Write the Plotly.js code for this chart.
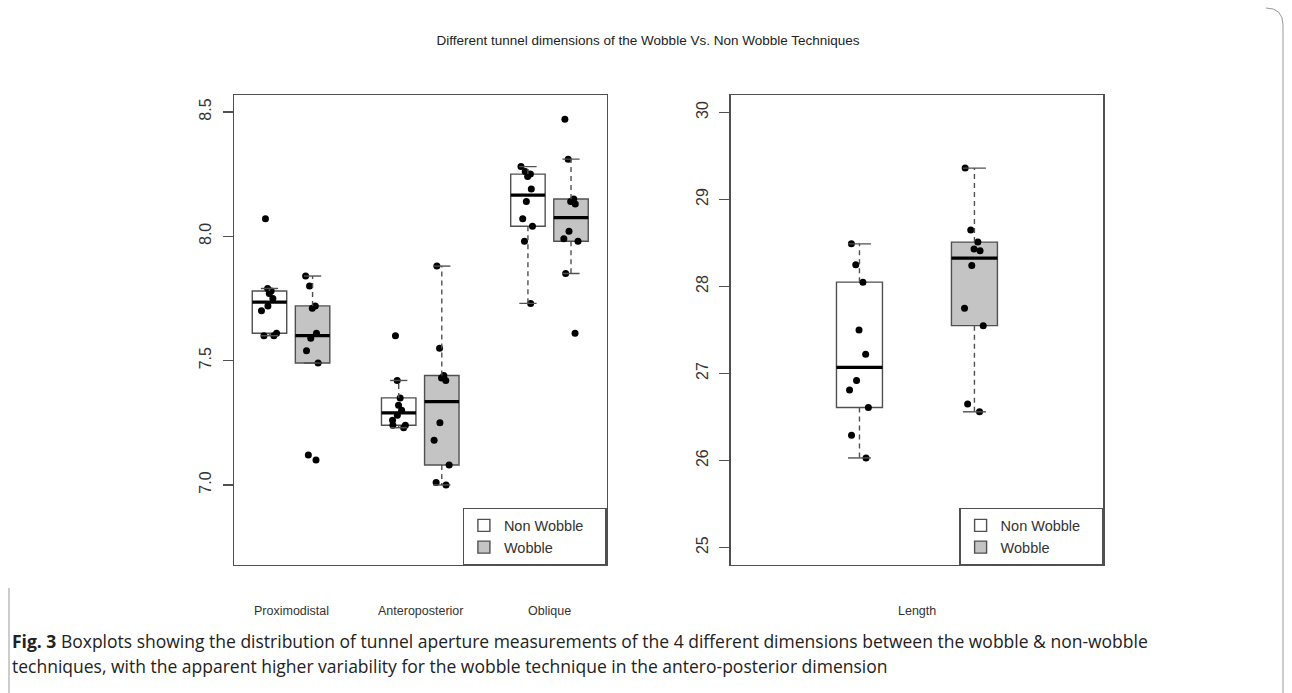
<!DOCTYPE html>
<html>
<head>
<meta charset="utf-8">
<script src="https://cdn.plot.ly/plotly-3.0.1.min.js"></script>
<style>
html,body{margin:0;padding:0;background:#fff;}
#chart{width:1292px;height:693px;}
</style>
</head>
<body>
<div id="chart"></div>
<script>
// ---------------- data ----------------
const seriesNames = ['Non Wobble', 'Wobble'];
const leftCategories = ['Proximodistal', 'Anteroposterior', 'Oblique'];
const rightCategories = ['Length'];

const proximodistalNonWobble = [7.60, 7.60, 7.61, 7.70, 7.72, 7.75, 7.77, 7.78, 7.79, 8.07];
const proximodistalWobble    = [7.10, 7.12, 7.49, 7.54, 7.59, 7.61, 7.71, 7.72, 7.80, 7.84];
const anteroposteriorNonWobble = [7.23, 7.24, 7.24, 7.26, 7.28, 7.30, 7.32, 7.35, 7.42, 7.60];
const anteroposteriorWobble    = [7.00, 7.01, 7.08, 7.18, 7.25, 7.42, 7.43, 7.44, 7.55, 7.88];
const obliqueNonWobble = [7.73, 7.98, 8.04, 8.07, 8.14, 8.19, 8.24, 8.25, 8.26, 8.28];
const obliqueWobble    = [7.61, 7.85, 7.98, 7.99, 8.02, 8.13, 8.14, 8.15, 8.31, 8.47];
const lengthNonWobble = [26.03, 26.29, 26.61, 26.81, 26.92, 27.22, 27.50, 28.05, 28.25, 28.49];
const lengthWobble    = [26.56, 26.65, 27.55, 27.75, 28.24, 28.41, 28.43, 28.51, 28.65, 29.36];

const leftTickVals = [7.0, 7.5, 8.0, 8.5];
const leftTickText = ['7.0', '7.5', '8.0', '8.5'];
const rightTickVals = [25, 26, 27, 28, 29, 30];
const rightTickText = ['25', '26', '27', '28', '29', '30'];

const titleText = 'Different tunnel dimensions of the Wobble Vs. Non Wobble Techniques';
const captionLine1 = '<b>Fig. 3</b> Boxplots showing the distribution of tunnel aperture measurements of the 4 different dimensions between the wobble &amp; non-wobble';
const captionLine2 = 'techniques, with the apparent higher variability for the wobble technique in the antero-posterior dimension';

// ---------------- layout helpers ----------------
const W = 1292, H = 693;
const px = x => x / W;
const py = y => 1 - y / H;

const FONT = 'Liberation Sans, Arial, sans-serif';
const LINE = '#505050';
const LW = 1.4;
const FILL = ['#ffffff', '#c4c4c4'];
const LEGEND_PAD = '\u00a0\u00a0\u00a0\u00a0';

// group slots (x positions on each panel's own scale)
const leftGroups = [
  {data: proximodistalNonWobble, s: 0, pos: 1},
  {data: proximodistalWobble, s: 1, pos: 2},
  {data: anteroposteriorNonWobble, s: 0, pos: 4},
  {data: anteroposteriorWobble, s: 1, pos: 5},
  {data: obliqueNonWobble, s: 0, pos: 7},
  {data: obliqueWobble, s: 1, pos: 8}
];
const leftLabelPos = [1.5, 4.5, 7.5];
const rightGroups = [
  {data: lengthNonWobble, s: 0, pos: 1},
  {data: lengthWobble, s: 1, pos: 2}
];
const rightLabelPos = [1.5];

// Tukey five-number summary + 1.5 IQR whiskers (like R boxplot)
function boxStats(a) {
  const s = [...a].sort((p, q) => p - q);
  const n = s.length;
  const n4 = Math.floor((n + 3) / 2) / 2;
  const d = [1, n4, (n + 1) / 2, n + 1 - n4, n];
  const f = d.map(v => 0.5 * (s[Math.floor(v) - 1] + s[Math.ceil(v) - 1]));
  const iqr = f[3] - f[1];
  const lo = s.find(v => v >= f[1] - 1.5 * iqr - 1e-9);
  const hi = [...s].reverse().find(v => v <= f[3] + 1.5 * iqr + 1e-9);
  return {q1: f[1], med: f[2], q3: f[3], lo: lo, hi: hi};
}

const traces = [];
function addGroups(groups, xa, ya, bw, legendId) {
  const shown = {};
  groups.forEach(g => {
    const st = boxStats(g.data);
    const half = bw / 2;
    const cap = bw / 4;
    traces.push({
      type: 'box', xaxis: xa, yaxis: ya,
      x: [g.pos], q1: [st.q1], median: [st.med], q3: [st.q3],
      lowerfence: [st.q1], upperfence: [st.q3],
      width: bw, whiskerwidth: 0, boxpoints: false,
      fillcolor: FILL[g.s], line: {color: LINE, width: LW},
      name: seriesNames[g.s] + (g.s === 0 ? LEGEND_PAD : ''), legend: legendId,
      showlegend: !shown[g.s], hoverinfo: 'skip'
    });
    shown[g.s] = true;
    traces.push({
      type: 'scatter', mode: 'lines', xaxis: xa, yaxis: ya,
      x: [g.pos, g.pos, null, g.pos, g.pos],
      y: [st.q3, st.hi, null, st.q1, st.lo],
      line: {color: LINE, width: LW, dash: '5px,4px'},
      showlegend: false, hoverinfo: 'skip'
    });
    traces.push({
      type: 'scatter', mode: 'lines', xaxis: xa, yaxis: ya,
      x: [g.pos - cap, g.pos + cap, null, g.pos - cap, g.pos + cap],
      y: [st.hi, st.hi, null, st.lo, st.lo],
      line: {color: LINE, width: LW},
      showlegend: false, hoverinfo: 'skip'
    });
    traces.push({
      type: 'scatter', mode: 'lines', xaxis: xa, yaxis: ya,
      x: [g.pos - half, g.pos + half], y: [st.med, st.med],
      line: {color: '#000', width: 3.2},
      showlegend: false, hoverinfo: 'skip'
    });
  });
  groups.forEach(g => {
    traces.push({
      type: 'box', xaxis: xa, yaxis: ya,
      y: g.data, x0: g.pos, width: bw,
      boxpoints: 'all', jitter: 0.55, pointpos: 0,
      fillcolor: 'rgba(0,0,0,0)', line: {color: 'rgba(0,0,0,0)', width: 0},
      whiskerwidth: 0,
      marker: {color: '#000', size: 7, line: {width: 0}},
      showlegend: false, hoverinfo: 'skip'
    });
  });
}
addGroups(leftGroups, 'x', 'y', 0.8, 'legend');
addGroups(rightGroups, 'x2', 'y2', 0.4, 'legend2');

const L = {x0: 234, x1: 606.5};
const R = {x0: 730.7, x1: 1103.2};
const TOP = 95, BOT = 565;

function xAxis(dom, range, anchor) {
  return {
    domain: [px(dom.x0), px(dom.x1)], range: range, anchor: anchor,
    showticklabels: false, ticks: '', showgrid: false, zeroline: false,
    showline: true, mirror: true, linecolor: LINE, linewidth: LW, fixedrange: true
  };
}
function yAxis(range, vals, text, anchor) {
  return {
    domain: [py(BOT), py(TOP)], range: range, anchor: anchor,
    tickmode: 'array', tickvals: vals, ticktext: text,
    ticks: 'outside', ticklen: 10, tickwidth: LW, tickcolor: LINE,
    tickangle: -90, ticklabelstandoff: 5,
    tickfont: {family: FONT, size: 16, color: '#333'},
    showgrid: false, zeroline: false,
    showline: true, mirror: true, linecolor: LINE, linewidth: LW, fixedrange: true
  };
}
function legendBox(rightPx) {
  return {
    x: px(rightPx), xanchor: 'right', y: py(BOT), yanchor: 'bottom',
    bgcolor: '#ffffff', bordercolor: LINE, borderwidth: LW,
    font: {family: FONT, size: 14.5, color: '#333'},
    itemclick: false, itemdoubleclick: false, traceorder: 'normal'
  };
}

const annotations = [];
leftCategories.forEach((c, i) => annotations.push({
  text: c, xref: 'x', x: leftLabelPos[i], yref: 'paper', y: py(611),
  xanchor: 'center', yanchor: 'middle', showarrow: false,
  font: {family: FONT, size: 12.5, color: '#333'}
}));
rightCategories.forEach((c, i) => annotations.push({
  text: c, xref: 'x2', x: rightLabelPos[i], yref: 'paper', y: py(611),
  xanchor: 'center', yanchor: 'middle', showarrow: false,
  font: {family: FONT, size: 12.5, color: '#333'}
}));
annotations.push({
  text: captionLine1, xref: 'paper', yref: 'paper', x: px(10), y: py(641),
  xanchor: 'left', yanchor: 'middle', showarrow: false, align: 'left',
  font: {family: 'Open Sans, sans-serif', size: 17.5, color: '#222'}
});
annotations.push({
  text: captionLine2, xref: 'paper', yref: 'paper', x: px(10), y: py(666),
  xanchor: 'left', yanchor: 'middle', showarrow: false, align: 'left',
  font: {family: 'Open Sans, sans-serif', size: 17.5, color: '#222'}
});

const shapes = [
  {type: 'path', xref: 'paper', yref: 'paper', layer: 'below',
   path: 'M' + px(1266) + ',' + py(8) + ' Q' + px(1283) + ',' + py(8) + ' ' + px(1283) + ',' + py(25) + ' L' + px(1283) + ',' + py(700),
   line: {color: '#999', width: 1}},
  {type: 'line', xref: 'paper', yref: 'paper', layer: 'below',
   x0: px(9), x1: px(9), y0: py(588), y1: py(700),
   line: {color: '#999', width: 1}}
];

const layout = {
  width: W, height: H,
  margin: {l: 0, r: 0, t: 0, b: 0},
  paper_bgcolor: '#fff', plot_bgcolor: '#fff',
  boxmode: 'overlay',
  title: {text: titleText, x: px(648), xanchor: 'center', xref: 'paper',
          y: py(40), yanchor: 'middle', yref: 'container',
          font: {family: FONT, size: 13.5, color: '#222'}},
  xaxis: xAxis(L, [0.176, 8.824], 'y'),
  yaxis: yAxis([6.678, 8.568], leftTickVals, leftTickText, 'x'),
  xaxis2: xAxis(R, [-0.12, 3.12], 'y2'),
  yaxis2: yAxis([24.8, 30.2], rightTickVals, rightTickText, 'x2'),
  legend: legendBox(L.x1),
  legend2: legendBox(R.x1),
  annotations: annotations,
  shapes: shapes,
  showlegend: true,
  hovermode: false
};

Plotly.newPlot('chart', traces, layout, {displayModeBar: false, staticPlot: true});
</script>
</body>
</html>
